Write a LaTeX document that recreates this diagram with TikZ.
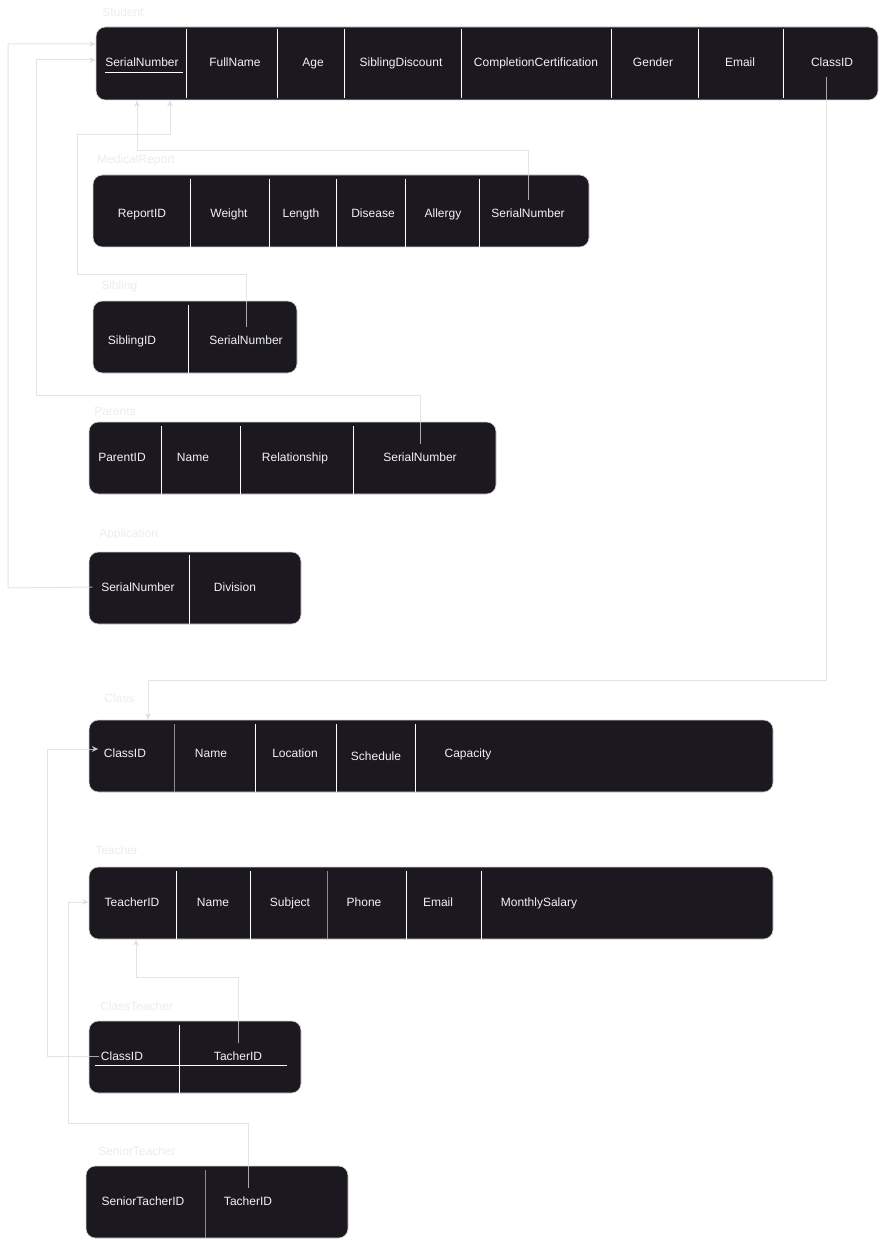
\documentclass[tikz,border=0pt]{standalone}
\usepackage{fontspec}
\setmainfont{Liberation Sans}
\usetikzlibrary{arrows.meta,fit}
\definecolor{cTable}{RGB}{27,24,32}
\definecolor{cEdge}{RGB}{214,214,214}
\definecolor{cTitle}{RGB}{236,236,236}
\definecolor{cLink}{RGB}{219,219,219}
\definecolor{cText}{RGB}{242,242,242}
\definecolor{cSepGray}{RGB}{140,140,140}
\tikzset{
	tbl/.style={draw=cEdge, line width=0.5pt, rounded corners=7pt,
		fill=cTable, inner sep=0pt},
	ttl/.style={anchor=west, inner sep=0pt, text=cTitle,
		font=\fontsize{9}{11}\selectfont},
	fld/.style={inner sep=0pt, text=cText, text height=7.5pt,
		text depth=1.3pt, font=\fontsize{9}{11}\selectfont},
	sep/.style={draw=white, line width=0.75pt},
	sepg/.style={draw=cSepGray, line width=0.75pt},
	pk/.style={draw=white, line width=0.6pt},
	fk/.style={-{Stealth[length=5pt,width=4.5pt]}, draw=cLink,
		line width=0.75pt, opacity=0.75},
}

\begin{document}
\begin{tikzpicture}[x=0.75pt, y=-0.75pt]
	\useasboundingbox (0,0) rectangle (879,1241);
	% tables
	\node[tbl, fit={(96,27) (878,100)}] (student) {};
	\node[tbl, fit={(93,175) (589,247)}] (medical) {};
	\node[tbl, fit={(93,301) (297,373)}] (sibling) {};
	\node[tbl, fit={(89,422) (496,494)}] (parents) {};
	\node[tbl, fit={(89,552) (301,624)}] (application) {};
	\node[tbl, fit={(89,720) (773,792)}] (class) {};
	\node[tbl, fit={(89,867) (773,939)}] (teacher) {};
	\node[tbl, fit={(89,1021) (301,1093)}] (classteacher) {};
	\node[tbl, fit={(86,1166) (348,1238)}] (senior) {};
	% titles
	\node[ttl] (tStudent) at (102,12) {Student};
	\node[ttl] (tMedical) at (97,160) {MedicalReport};
	\node[ttl] (tSibling) at (101,286) {Sibling};
	\node[ttl] (tParents) at (94,411) {Parents};
	\node[ttl] (tApplication) at (99,534) {Application};
	\node[ttl] (tClass) at (104,698) {Class};
	\node[ttl] (tTeacher) at (95,850) {Teacher};
	\node[ttl] (tClassTeacher) at (100,1006) {ClassTeacher};
	\node[ttl] (tSenior) at (98,1151) {SeniorTeacher};
	% column separators
	\foreach \x in {186,277,344,461,611,698,783}
		\draw[sep] (\x,29) -- (\x,98);
	\foreach \x in {190,269,336,405,479}
		\draw[sep] (\x,179) -- (\x,247);
	\draw[sep] (188,305) -- (188,373);
	\foreach \x in {161,240,353}
		\draw[sep] (\x,426) -- (\x,494);
	\draw[sep] (189,555) -- (189,624);
	\draw[sepg] (174,724) -- (174,792);
	\foreach \x in {255,336,415}
		\draw[sep] (\x,724) -- (\x,792);
	\foreach \x in {176,250,406,481}
		\draw[sep] (\x,871) -- (\x,939);
	\draw[sepg] (327,871) -- (327,939);
	\draw[sep] (179,1025) -- (179,1093);
	\draw[sepg] (205,1170) -- (205,1238);
	% fields
	\foreach \x/\t/\n in {142/SerialNumber/stSN, 235/FullName/stName,
		313/Age/stAge, 401/SiblingDiscount/stSib,
		536/CompletionCertification/stCert, 653/Gender/stGender,
		740/Email/stEmail, 832/ClassID/stClass}
		\node[fld] (\n) at (\x,62) {\t};
	\foreach \x/\t/\n in {142/ReportID/mrID, 229/Weight/mrWeight,
		301/Length/mrLength, 373/Disease/mrDisease,
		443/Allergy/mrAllergy, 528/SerialNumber/mrSN}
		\node[fld] (\n) at (\x,213) {\t};
	\foreach \x/\t/\n in {132/SiblingID/sbID, 246/SerialNumber/sbSN}
		\node[fld] (\n) at (\x,340) {\t};
	\foreach \x/\t/\n in {122/ParentID/paID, 193/Name/paName,
		295/Relationship/paRel, 420/SerialNumber/paSN}
		\node[fld] (\n) at (\x,457) {\t};
	\foreach \x/\t/\n in {138/SerialNumber/apSN, 235/Division/apDiv}
		\node[fld] (\n) at (\x,587) {\t};
	\foreach \x/\t/\n in {125/ClassID/clID, 211/Name/clName,
		295/Location/clLoc, 468/Capacity/clCap}
		\node[fld] (\n) at (\x,753) {\t};
	\node[fld] (clSched) at (376,756) {Schedule};
	\foreach \x/\t/\n in {132/TeacherID/teID, 213/Name/teName,
		290/Subject/teSubj, 364/Phone/tePhone, 438/Email/teEmail,
		539/MonthlySalary/teSalary}
		\node[fld] (\n) at (\x,902) {\t};
	\foreach \x/\t/\n in {122/ClassID/ctClass, 238/TacherID/ctTeacher}
		\node[fld] (\n) at (\x,1056) {\t};
	\foreach \x/\t/\n in {143/SeniorTacherID/snID, 248/TacherID/snTeacher}
		\node[fld] (\n) at (\x,1201) {\t};
	% key underlines
	\draw[pk] (105,72) -- (183,72);
	\draw[pk] (95,1065) -- (287,1065);
	% relations
	\draw[fk] ([xshift=-6.5pt]apSN.west) -- (8,588) -- (8,44) -- (student.west |- 0,44);
	\draw[fk] ([yshift=5pt]paSN.north) |- (36,395) |- (student.west |- 0,60);
	\draw[fk] ([yshift=5pt]sbSN.north) |- (77,274) |- (170,135) -- (student.south -| 170,0);
	\draw[fk] ([yshift=5pt]mrSN.north) |- (137,151) -- (student.south -| 137,0);
	\draw[fk] ([xshift=-4.5pt,yshift=-7pt]stClass.south) |- (148,680) -- (class.north -| 148,0);
	\draw[fk] ([xshift=-1pt]ctClass.west) -| (47,749) -- ([xshift=-4pt,yshift=3pt]clID.west);
	\draw[fk] ([yshift=5pt]ctTeacher.north) |- (136,977) -- (teacher.south -| 136,0);
	\draw[fk] ([yshift=5pt]snTeacher.north) |- (68,1123) |- (teacher.west |- teID.west);
\end{tikzpicture}
\end{document}
